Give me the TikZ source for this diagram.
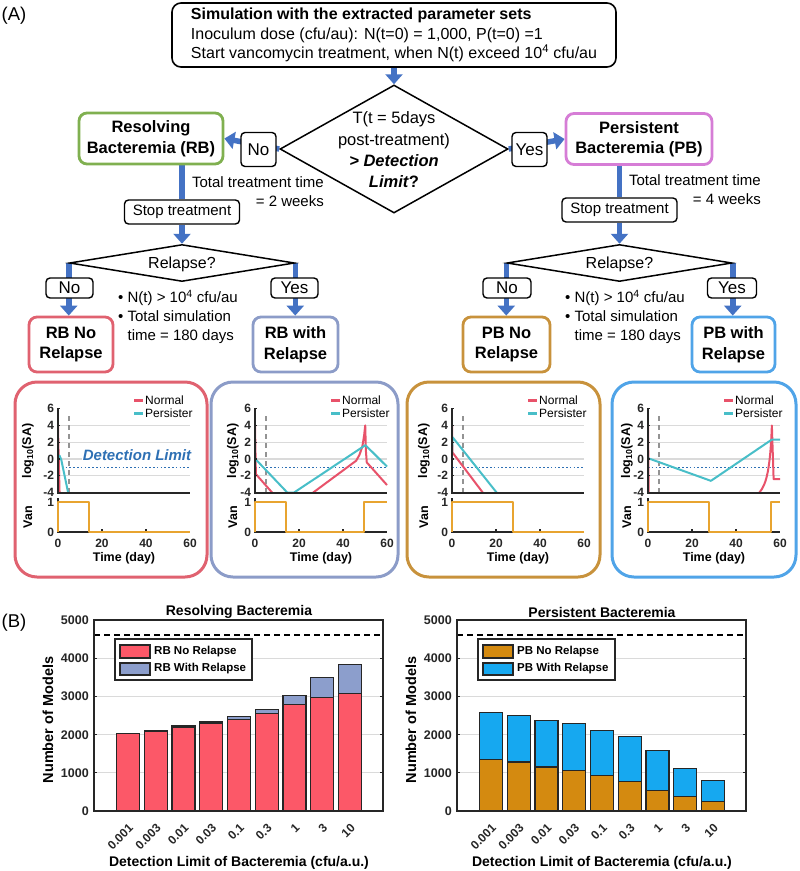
\documentclass[tikz,border=0pt]{standalone}
\usepackage{fontspec}
\setmainfont{Liberation Sans}
\usetikzlibrary{shapes.geometric,arrows.meta}
\pgfdeclarelayer{bg}
\pgfsetlayers{bg,main}
\newcommand\fsz[2]{\fontsize{#1}{#2}\selectfont}
\definecolor{arrowblue}{RGB}{68,114,196}
\definecolor{rbgreen}{RGB}{128,176,80}
\definecolor{pbmag}{RGB}{214,125,214}
\definecolor{rbnoC}{RGB}{224,98,112}
\definecolor{rbyesC}{RGB}{140,156,200}
\definecolor{pbnoC}{RGB}{200,146,60}
\definecolor{pbyesC}{RGB}{80,164,232}
\definecolor{normalC}{RGB}{232,82,106}
\definecolor{persC}{RGB}{72,190,200}
\definecolor{vanC}{RGB}{232,164,48}
\definecolor{detblue}{RGB}{46,112,180}
\definecolor{gridC}{RGB}{218,218,218}
\definecolor{barRBno}{RGB}{252,88,104}
\definecolor{barRByes}{RGB}{140,158,204}
\definecolor{barPBno}{RGB}{212,138,16}
\definecolor{barPByes}{RGB}{22,168,240}
\definecolor{axisC}{RGB}{38,38,38}
\tikzset{
 flowarrow/.style={draw=arrowblue, line width=5.5pt, -{Triangle[width=17pt,length=10pt]}},
 flowline/.style={draw=arrowblue, line width=5.5pt},
 bbox/.style={draw=black, line width=1.4pt, rounded corners=4pt, fill=white, inner sep=1pt},
 cbox/.style={draw, line width=2.8pt, rounded corners=8pt, fill=white, align=center, inner sep=1pt, font={\bfseries\fsz{16.5}{20.5}}},
 dia/.style={diamond, draw=black, line width=1.5pt, inner sep=0pt, fill=white},
 ftext/.style={font={\fsz{15}{19}}, inner sep=0pt},
 panelbox/.style={draw, line width=3pt, rounded corners=22pt, inner sep=0pt},
 tlbl/.style={font={\bfseries\fsz{12}{14}}, text=axisC, inner sep=1pt},
 crv/.style={line width=2pt, line join=round},
 normc/.style={crv, draw=normalC},
 persc/.style={crv, draw=persC},
 vanc/.style={crv, draw=vanC},
 axline/.style={draw=axisC, line width=2pt},
 barline/.style={draw=axisC, line width=1.3pt},
}
% ---------- panel plot helpers ----------
\newcommand\plotbg[1]{%
 \begin{scope}[shift={(#1,459)}, x=2.2pt, y=8.4pt]
  \foreach \g in {-2,0,2,4} \draw[gridC, line width=1.2pt] (0,\g) -- (60,\g);
  \draw[detblue, line width=1.6pt, dash pattern=on 1.6pt off 2.2pt] (0,-1) -- (60,-1);
  \draw[gray!85, line width=1.4pt, dash pattern=on 5pt off 4pt] (5,-4) -- (5,5.4);
 \end{scope}}
\newcommand\plotaxes[2]{%
 \begin{scope}[shift={(#1,459)}, x=2.2pt, y=8.4pt]
  \draw[axline] (0,6.05) -- (0,-4) -- (60,-4);
  \foreach \v in {-4,-2,...,6} {\draw[axisC, line width=1.2pt] (0,\v) -- (1,\v);
     \node[tlbl, anchor=east] at (-1.2,\v) {\v};}
 \end{scope}
 \begin{scope}[shift={(#1,532)}, x=2.2pt, y=30pt]
  \draw[axline] (0,1.12) -- (0,0) -- (60,0);
  \foreach \t in {20,40} \draw[axisC, line width=1.5pt] (\t,0) -- (\t,0.1);
  \node[tlbl, anchor=east] at (-1.2,1) {1};
  \node[tlbl, anchor=east] at (-1.2,0) {0};
 \end{scope}
 \draw[normalC, line width=3pt] (#1+76,400) -- (#1+85,400);
 \draw[persC, line width=3pt] (#1+76,413) -- (#1+85,413);
 \node[anchor=west, font={\fsz{12}{14}}, inner sep=0pt] at (#1+87,400) {Normal};
 \node[anchor=west, font={\fsz{12}{14}}, inner sep=0pt] at (#1+87,413) {Persister};
 \node[rotate=90, font={\bfseries\fsz{12.5}{14}}, inner sep=0pt] at (#2,451) {log\textsubscript{10}(SA)};
 \node[rotate=90, font={\bfseries\fsz{12.5}{14}}, inner sep=0pt] at (#2,517) {Van};
 \node[tlbl] at (#1,543) {0};
 \node[tlbl] at (#1+44,543) {20};
 \node[tlbl] at (#1+88,543) {40};
 \node[tlbl] at (#1+132,543) {60};
 \node[font={\bfseries\fsz{12.5}{14}}, inner sep=0pt] at (#1+66,558) {Time (day)};}
% ---------- bar chart helpers ----------
\newcommand\barbg[1]{%
 \begin{scope}[shift={(#1,811)}, x=1pt, y=0.03815pt]
  \foreach \g in {1000,2000,3000,4000} \draw[gridC, line width=1.2pt] (0,\g) -- (289,\g);
 \end{scope}}
\newcommand\barover[2]{% x0, title
 \begin{scope}[shift={(#1,811)}, x=1pt, y=0.03815pt]
  \draw[black, line width=1.5pt, dash pattern=on 6pt off 4pt] (0,4610) -- (289,4610);
  \foreach \v in {0,1000,...,5000} {
    \draw[axisC, line width=1.2pt] (0,\v) -- (3,\v);
    \draw[axisC, line width=1.2pt] (289,\v) -- (286,\v);
    \node[anchor=east, font={\bfseries\fsz{12.5}{14}}, text=axisC, inner sep=0pt] at (-5,\v) {\v};}
  \draw[axisC, line width=1.6pt] (0,0) rectangle (289,5000);
 \end{scope}
 \foreach \l [count=\i from 0] in {0.001,0.003,0.01,0.03,0.1,0.3,1,3,10}
   \node[rotate=45, anchor=east, font={\bfseries\fsz{12}{13}}, text=axisC, inner sep=0pt] at ({#1+34+\i*27.75+3},826) {\l};
 \node[font={\bfseries\fsz{14}{17}}, inner sep=0pt] at (#1+145,612) {#2};
 \node[font={\bfseries\fsz{14}{17}}, inner sep=0pt] at (#1+145,863) {Detection Limit of Bacteremia (cfu/a.u.)};
 \node[rotate=90, font={\bfseries\fsz{14.5}{17}}, inner sep=0pt] at (#1-46,720) {Number of Models};}
\newcommand\barlegend[5]{% x0, colour1, colour2, text1, text2
 \draw[axisC, line width=1.5pt, fill=white] (#1+21,639) rectangle (#1+158,680);
 \draw[barline, fill=#2] (#1+26,645) rectangle (#1+56,658);
 \draw[barline, fill=#3] (#1+26,663) rectangle (#1+56,675);
 \node[anchor=west, font={\bfseries\fsz{11.5}{13}}, inner sep=0pt] at (#1+60,651.5) {#4};
 \node[anchor=west, font={\bfseries\fsz{11.5}{13}}, inner sep=0pt] at (#1+60,669) {#5};}
\begin{document}
\begin{tikzpicture}[x=1pt,y=-1pt]
\useasboundingbox (0,0) rectangle (800,871);

% ===================== (A) flow chart =====================
\node[font={\fsz{18.5}{22}}, inner sep=0pt] (labA) at (14,16) {(A)};

\node[bbox, rounded corners=9pt, line width=1.6pt, minimum width=444pt, minimum height=64pt, align=left, font={\fsz{16}{19.5}}] (top) at (394,35)
 {\textbf{Simulation with the extracted parameter sets}\\Inoculum dose (cfu/au): N(t=0) = 1,000, P(t=0) =1\\Start vancomycin treatment, when N(t) exceed 10\textsuperscript{4} cfu/au};

\node[dia, minimum width=228pt, minimum height=128pt] (dec) at (394,149) {};
\node[align=center, font={\fsz{16.5}{21.3}}, inner sep=0pt] (dectxt) at (394,150)
 {T(t = 5days\\post-treatment)\\\textbf{\textit{> Detection}}\\\textbf{\textit{Limit}?}};

\node[cbox, draw=rbgreen, minimum width=144pt, minimum height=51pt] (rb) at (151,138.5) {Resolving\\Bacteremia (RB)};
\node[cbox, draw=pbmag, minimum width=146pt, minimum height=51pt] (pb) at (639,139) {Persistent\\Bacteremia (PB)};

\node[bbox, minimum width=35pt, minimum height=34pt, font={\fsz{17}{20}}] (no0) at (258.5,149.5) {No};
\node[bbox, minimum width=35pt, minimum height=34pt, font={\fsz{17}{20}}] (yes0) at (529.5,149.5) {Yes};

\node[bbox, minimum width=115pt, minimum height=24pt, font={\fsz{15}{18}}] (stop1) at (182,212) {Stop treatment};
\node[bbox, minimum width=115pt, minimum height=24pt, font={\fsz{15}{18}}] (stop2) at (619.5,210) {Stop treatment};

\node[ftext, anchor=east, align=right] (tt1) at (324,192) {Total treatment time\\= 2 weeks};
\node[ftext, anchor=east, align=right] (tt2) at (761,190) {Total treatment time\\= 4 weeks};

\node[dia, minimum width=225pt, minimum height=37pt] (rel1) at (182,263) {};
\node[font={\fsz{16}{19}}, inner sep=0pt] (rel1t) at (182,264) {Relapse?};
\node[dia, minimum width=225pt, minimum height=37pt] (rel2) at (619.5,263) {};
\node[font={\fsz{16}{19}}, inner sep=0pt] (rel2t) at (619.5,264) {Relapse?};

\node[bbox, minimum width=47pt, minimum height=20pt, font={\fsz{17}{20}}] (no1) at (69.5,288) {No};
\node[bbox, minimum width=47pt, minimum height=20pt, font={\fsz{17}{20}}] (yes1) at (294.5,288) {Yes};
\node[bbox, minimum width=48pt, minimum height=20pt, font={\fsz{17}{20}}] (no2) at (507,288) {No};
\node[bbox, minimum width=49pt, minimum height=20pt, font={\fsz{17}{20}}] (yes2) at (732,288) {Yes};

\node[ftext, anchor=west, align=left] (bul1) at (118,317) {• N(t) > 10\textsuperscript{4} cfu/au\\• Total simulation\\\phantom{• }time = 180 days};
\node[ftext, anchor=west, align=left] (bul2) at (565,317) {• N(t) > 10\textsuperscript{4} cfu/au\\• Total simulation\\\phantom{• }time = 180 days};

\node[cbox, draw=rbnoC, minimum width=84pt, minimum height=55pt] (rbno) at (71,344.5) {RB No\\Relapse};
\node[cbox, draw=rbyesC, minimum width=85pt, minimum height=55pt] (rbyes) at (295.5,344.5) {RB with\\Relapse};
\node[cbox, draw=pbnoC, minimum width=87pt, minimum height=55pt] (pbno) at (506.5,344.5) {PB No\\Relapse};
\node[cbox, draw=pbyesC, minimum width=83pt, minimum height=55pt] (pbyes) at (733.5,344.5) {PB with\\Relapse};

\begin{pgfonlayer}{bg}
 \fill[white] (0,0) rectangle (800,871);
 \draw[flowarrow] (top.south) -- (dec.north);
 \draw[flowarrow] (dec.west) -- (rb.east);
 \draw[flowarrow] (dec.east) -- (pb.west);
 \draw[flowline] (stop1.north |- rb.south) -- (stop1.north);
 \draw[flowline] (stop2.north |- pb.south) -- (stop2.north);
 \draw[flowarrow] (stop1.south) -- (rel1.north);
 \draw[flowarrow] (stop2.south) -- (rel2.north);
 \draw[flowarrow] (rel1.west) -- (rel1.west |- rbno.north);
 \draw[flowarrow] (rel1.east) -- (rel1.east |- rbyes.north);
 \draw[flowarrow] (rel2.west) -- (rel2.west |- pbno.north);
 \draw[flowarrow] (rel2.east) -- (rel2.east |- pbyes.north);
\end{pgfonlayer}

% ===================== simulation panels =====================
\node[panelbox, draw=rbnoC, minimum width=192pt, minimum height=195pt] (p1) at (111,479.5) {};
\node[panelbox, draw=rbyesC, minimum width=187pt, minimum height=195pt] (p2) at (304.5,479.5) {};
\node[panelbox, draw=pbnoC, minimum width=193pt, minimum height=195pt] (p3) at (503.5,479.5) {};
\node[panelbox, draw=pbyesC, minimum width=184pt, minimum height=195pt] (p4) at (704,479.5) {};

% panel 1
\plotbg{58}
\node[font={\bfseries\itshape\fsz{15}{17}}, text=detblue, fill=white, inner sep=1pt] (detlim) at (137,455) {Detection Limit};
\begin{scope}[shift={(58,459)}, x=2.2pt, y=8.4pt]
 \draw[normc] (0,4) -- (0.15,2) -- (0.7,-4);
 \draw[persc] (0,0.3) -- (0.7,0.4) -- (1.5,-0.1) -- (4.6,-4);
\end{scope}
\plotaxes{58}{28}
\begin{scope}[shift={(58,532)}, x=2.2pt, y=30pt]
 \draw[vanc] (0,0) -- (0,1) -- (14,1) -- (14,0) -- (60,0);
\end{scope}

% panel 2
\plotbg{255}
\begin{scope}[shift={(255,459)}, x=2.2pt, y=8.4pt]
 \draw[normc] (0,4) -- (0.4,-1.8) -- (7.8,-4);
 \draw[normc] (26.4,-4) -- (46,-0.2) -- (47.5,0.5) -- (48.8,1.5) -- (49.6,2.8) -- (50.1,4) -- (50.4,1) -- (50.8,-0.4) -- (60,-3.1);
 \draw[persc] (0,0.05) -- (14.7,-4) -- (17.7,-4) -- (50.2,1.65) -- (60,-0.9);
\end{scope}
\plotaxes{255}{233}
\begin{scope}[shift={(255,532)}, x=2.2pt, y=30pt]
 \draw[vanc] (0,0) -- (0,1) -- (14,1) -- (14,0) -- (49.7,0) -- (49.7,1) -- (60,1);
\end{scope}

% panel 3
\plotbg{452}
\begin{scope}[shift={(452,459)}, x=2.2pt, y=8.4pt]
 \draw[normc] (0,4) -- (0.15,0.8) -- (14,-4);
 \draw[persc] (0,0.6) -- (0.25,2.6) -- (20.3,-4);
\end{scope}
\plotaxes{452}{424}
\begin{scope}[shift={(452,532)}, x=2.2pt, y=30pt]
 \draw[vanc] (0,0) -- (0,1) -- (27.7,1) -- (27.7,0) -- (60,0);
\end{scope}

% panel 4
\plotbg{648}
\begin{scope}[shift={(648,459)}, x=2.2pt, y=8.4pt]
 \draw[normc] (0,4) -- (0.3,-4);
 \draw[normc] (50.6,-4) .. controls (54,-3) and (55.6,-1) .. (56.3,4) -- (57.1,-2.4) -- (60,-2.4);
 \draw[persc] (0,0.1) -- (28.6,-2.6) -- (56.2,2.3) -- (60,2.3);
\end{scope}
\plotaxes{648}{627}
\begin{scope}[shift={(648,532)}, x=2.2pt, y=30pt]
 \draw[vanc] (0,0) -- (0,1) -- (27.6,1) -- (27.6,0) -- (55.8,0) -- (55.8,1) -- (60,1);
\end{scope}

% ===================== (B) bar charts =====================
\node[font={\fsz{18.5}{22}}, inner sep=0pt] (labB) at (14,623) {(B)};

\barbg{94}
\begin{scope}[shift={(94,811)}, x=1pt, y=0.03815pt]
 \foreach \n/\t [count=\i from 0] in {2025/2025,2090/2095,2200/2230,2290/2335,2405/2485,2555/2670,2800/3035,2970/3500,3085/3835} {
   \draw[barline, fill=barRByes] ({34+\i*27.75-11.5},0) rectangle ({34+\i*27.75+11.5},\t);
   \draw[barline, fill=barRBno] ({34+\i*27.75-11.5},0) rectangle ({34+\i*27.75+11.5},\n);}
\end{scope}
\barover{94}{Resolving Bacteremia}
\barlegend{94}{barRBno}{barRByes}{RB No Relapse}{RB With Relapse}

\barbg{457}
\begin{scope}[shift={(457,811)}, x=1pt, y=0.03815pt]
 \foreach \n/\t [count=\i from 0] in {1355/2590,1285/2510,1155/2380,1070/2290,935/2115,780/1950,545/1580,375/1120,245/795} {
   \draw[barline, fill=barPByes] ({34+\i*27.75-11.5},0) rectangle ({34+\i*27.75+11.5},\t);
   \draw[barline, fill=barPBno] ({34+\i*27.75-11.5},0) rectangle ({34+\i*27.75+11.5},\n);}
\end{scope}
\barover{457}{Persistent Bacteremia}
\barlegend{457}{barPBno}{barPByes}{PB No Relapse}{PB With Relapse}

\end{tikzpicture}
\end{document}
